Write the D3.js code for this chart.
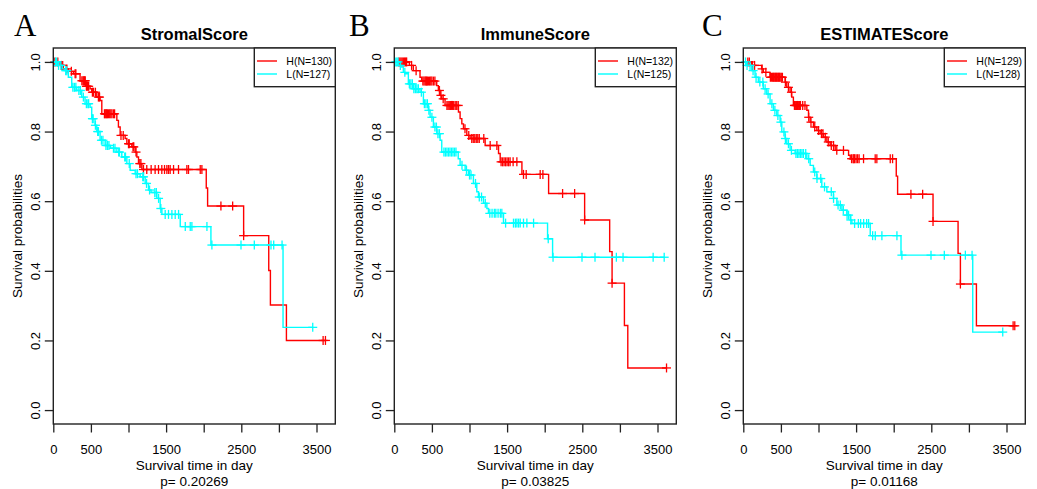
<!DOCTYPE html>
<html>
<head>
<meta charset="utf-8">
<script src="https://cdn.jsdelivr.net/npm/d3@7"></script>
<style>
  html, body { margin: 0; padding: 0; background: #fff; }
  svg { display: block; }
  text { font-family: "Liberation Sans", Arial, Helvetica, sans-serif; fill: #000; }
</style>
</head>
<body>
<svg id="chart" width="1037" height="489"></svg>
<script>
// ---------------- data ----------------
const panelLetters = ["A", "B", "C"];
const panelTitles = ["StromalScore", "ImmuneScore", "ESTIMATEScore"];
const pValues = ["0.20269", "0.03825", "0.01168"];
const highLabels = ["H(N=130)", "H(N=132)", "H(N=129)"];
const lowLabels = ["L(N=127)", "L(N=125)", "L(N=128)"];
const xTickValues = [0, 500, 1000, 1500, 2000, 2500, 3000, 3500];
const xTickShown = [0, 500, 1500, 2500, 3500];
const yTickValues = [0, 0.2, 0.4, 0.6, 0.8, 1.0];
const xMax = 3750;

// StromalScore
const stromalHighSteps = [[90,0.99],[133,0.98],[200,0.973],[267,0.966],[356,0.946],[430,0.93],[489,0.923],[511,0.913],[578,0.899],[622,0.889],[645,0.851],[845,0.832],[866,0.813],[889,0.789],[955,0.78],[978,0.765],[1044,0.756],[1089,0.741],[1111,0.727],[1133,0.708],[1178,0.691],[2034,0.638],[2052,0.586],[2531,0.501],[2865,0.401],[2887,0.302],[3100,0.2]];
const stromalHighCensor = [20,60,110,125,180,240,290,300,380,395,405,415,425,440,455,470,520,535,560,600,615,680,690,700,710,720,735,750,765,780,800,815,900,930,1000,1010,1060,1070,1100,1150,1165,1199,1243,1301,1354,1399,1443,1479,1510,1532,1554,1599,1665,1776,1798,1954,1976,2229,2385,2531,3588,3619];
const stromalLowSteps = [[60,0.99],[120,0.98],[156,0.975],[200,0.956],[245,0.927],[312,0.918],[378,0.899],[422,0.88],[489,0.87],[511,0.837],[555,0.818],[578,0.8],[622,0.775],[689,0.76],[760,0.752],[845,0.741],[911,0.727],[978,0.708],[1022,0.689],[1089,0.679],[1155,0.67],[1222,0.651],[1266,0.632],[1300,0.625],[1377,0.608],[1421,0.579],[1444,0.562],[1688,0.527],[2096,0.474],[3055,0.2376]];
const stromalLowCensor = [30,45,70,100,165,180,260,280,300,340,360,400,440,460,470,520,530,560,590,600,640,660,700,720,740,800,820,870,880,950,960,1010,1100,1120,1190,1200,1240,1280,1350,1370,1400,1430,1488,1532,1577,1621,1666,1755,1821,1843,2043,2109,2496,2673,2895,2931,3042,3450];

// ImmuneScore
const immuneHighSteps = [[200,0.99],[253,0.975],[342,0.956],[364,0.945],[564,0.932],[586,0.918],[609,0.904],[631,0.894],[675,0.875],[853,0.856],[875,0.837],[898,0.822],[920,0.808],[964,0.789],[1008,0.78],[1208,0.76],[1386,0.737],[1408,0.713],[1697,0.677],[2052,0.622],[2531,0.546],[2864,0.455],[2896,0.3646],[3060,0.243],[3105,0.121]];
const immuneHighCensor = [60,75,90,105,120,135,150,164,230,290,380,395,410,420,430,440,455,470,485,500,520,540,600,620,650,700,715,730,745,760,775,790,810,830,850,940,990,1030,1050,1070,1090,1110,1130,1190,1275,1364,1420,1440,1460,1480,1500,1520,1540,1580,1630,1718,1754,1940,1976,2238,2398,2531,2896,3620];
const immuneLowSteps = [[53,0.99],[98,0.985],[120,0.97],[142,0.966],[187,0.937],[253,0.923],[342,0.913],[387,0.88],[453,0.861],[476,0.841],[520,0.813],[565,0.794],[609,0.775],[631,0.741],[850,0.722],[875,0.703],[942,0.689],[986,0.675],[1052,0.651],[1097,0.627],[1119,0.612],[1186,0.594],[1231,0.579],[1252,0.565],[1452,0.537],[2038,0.492],[2105,0.439]];
const immuneLowCensor = [20,35,50,80,140,200,220,240,260,280,300,320,360,400,420,440,460,500,540,560,580,600,660,680,700,720,740,760,780,800,820,900,960,1000,1020,1080,1130,1160,1210,1270,1300,1330,1350,1380,1410,1430,1480,1585,1610,1630,1652,1674,1718,1763,1852,2047,2111,2496,2669,2953,3042,3442,3589];

// ESTIMATEScore
const estimateHighSteps = [[111,0.99],[244,0.98],[266,0.97],[355,0.956],[556,0.942],[578,0.927],[622,0.913],[644,0.899],[666,0.875],[845,0.861],[867,0.841],[889,0.827],[933,0.813],[978,0.803],[1022,0.794],[1066,0.784],[1111,0.77],[1155,0.76],[1222,0.746],[1400,0.732],[1422,0.722],[2034,0.672],[2052,0.62],[2523,0.542],[2856,0.45],[2887,0.362],[3100,0.242]];
const estimateHighCensor = [60,80,120,150,250,300,360,375,390,400,410,420,430,440,450,460,470,480,490,505,520,560,600,640,680,690,700,710,720,730,740,750,760,790,820,870,900,950,1000,1040,1060,1090,1130,1170,1200,1243,1332,1440,1460,1470,1480,1500,1520,1540,1599,1754,1776,1954,1985,2229,2385,2523,2887,3588,3610];
const estimateLowSteps = [[45,0.99],[112,0.975],[156,0.956],[200,0.942],[266,0.923],[312,0.908],[356,0.88],[400,0.861],[445,0.846],[489,0.827],[512,0.799],[556,0.78],[578,0.765],[622,0.746],[689,0.737],[845,0.722],[889,0.703],[933,0.684],[978,0.665],[1044,0.641],[1111,0.627],[1199,0.608],[1244,0.589],[1311,0.574],[1377,0.56],[1422,0.546],[1444,0.536],[1688,0.501],[2097,0.445],[3051,0.224]];
const estimateLowCensor = [30,50,90,130,170,220,260,290,330,380,420,460,500,540,560,600,640,700,720,740,760,780,800,830,870,950,980,1030,1080,1170,1200,1260,1290,1330,1380,1400,1430,1480,1530,1560,1600,1640,1666,1720,1755,1843,2043,2109,2496,2673,2953,3042,3450];

const highStepsList = [stromalHighSteps, immuneHighSteps, estimateHighSteps];
const highCensorList = [stromalHighCensor, immuneHighCensor, estimateHighCensor];
const lowStepsList = [stromalLowSteps, immuneLowSteps, estimateLowSteps];
const lowCensorList = [stromalLowCensor, immuneLowCensor, estimateLowCensor];

// ---------------- layout ----------------
const panelLeft = [53.3, 394.3, 743.3];
const panelWidth = 282;
const boxTop = 48, boxBottom = 424;
const letterX = [14, 349, 702];
const colHigh = "#FF0000", colLow = "#00FFFF";

const svg = d3.select("#chart");

function survAt(steps, t) {
  let s = 1.0;
  for (const [st, sv] of steps) { if (st <= t) s = sv; else break; }
  return s;
}

panelTitles.forEach((title, i) => {
  const x0 = panelLeft[i], x1 = x0 + panelWidth;
  const x = d3.scaleLinear().domain([0, xMax]).range([x0, x1]);
  const y = d3.scaleLinear().domain([-0.04, 1.04]).range([boxBottom, boxTop]);
  const g = svg.append("g");

  // curves
  const groups = [
    { steps: highStepsList[i], censor: highCensorList[i], color: colHigh },
    { steps: lowStepsList[i], censor: lowCensorList[i], color: colLow }
  ];
  groups.forEach(gr => {
    const end = d3.max(gr.censor.concat(gr.steps.map(d => d[0])));
    const pts = [[0, 1.0]];
    let cur = 1.0;
    gr.steps.forEach(([t, s]) => { pts.push([t, cur]); pts.push([t, s]); cur = s; });
    pts.push([end, cur]);
    const line = d3.line().x(d => x(d[0])).y(d => y(d[1]));
    g.append("path").attr("d", line(pts)).attr("fill", "none")
      .attr("stroke", gr.color).attr("stroke-width", 1.4);
    const marks = g.append("g").attr("stroke", gr.color).attr("stroke-width", 1.3);
    gr.censor.forEach(t => {
      const cx = x(t), cy = y(survAt(gr.steps, t));
      marks.append("line").attr("x1", cx - 4.5).attr("x2", cx + 4.5).attr("y1", cy).attr("y2", cy);
      marks.append("line").attr("x1", cx).attr("x2", cx).attr("y1", cy - 4.5).attr("y2", cy + 4.5);
    });
  });

  // box
  g.append("rect").attr("x", x0).attr("y", boxTop).attr("width", panelWidth)
    .attr("height", boxBottom - boxTop).attr("fill", "none")
    .attr("stroke", "#222").attr("stroke-width", 1.4);

  // x axis
  const xa = g.append("g").attr("transform", `translate(0,${boxBottom})`)
    .call(d3.axisBottom(x).tickValues(xTickValues).tickSize(8.5).tickPadding(0)
      .tickFormat(d => xTickShown.includes(d) ? String(d) : ""));
  xa.select(".domain").remove();
  xa.selectAll(".tick line").attr("stroke", "#222").attr("stroke-width", 1.3);
  xa.selectAll(".tick text").attr("y", 30).attr("dy", 0).attr("font-size", 13)
    .style("font-family", '"Liberation Sans", Arial, sans-serif').attr("fill", "#000");

  // y axis
  const ya = g.append("g").attr("transform", `translate(${x0},0)`)
    .call(d3.axisLeft(y).tickValues(yTickValues).tickSize(8.5).tickFormat(d3.format(".1f")));
  ya.select(".domain").remove();
  ya.selectAll(".tick line").attr("stroke", "#222").attr("stroke-width", 1.3);
  ya.selectAll(".tick text").attr("x", 0).attr("dy", 0)
    .attr("transform", "translate(-13.5,0) rotate(-90)")
    .attr("text-anchor", "middle").attr("font-size", 13)
    .style("font-family", '"Liberation Sans", Arial, sans-serif').attr("fill", "#000");

  const cx = (x0 + x1) / 2;
  // titles
  g.append("text").attr("x", cx).attr("y", 39.8).attr("text-anchor", "middle")
    .attr("font-size", 16.5).attr("font-weight", "bold").text(title);
  g.append("text").attr("x", cx).attr("y", 469.5).attr("text-anchor", "middle")
    .attr("font-size", 13.5).text("Survival time in day");
  g.append("text").attr("x", cx).attr("y", 486).attr("text-anchor", "middle")
    .attr("font-size", 13.5).text("p= " + pValues[i]);
  g.append("text").attr("transform", `translate(${x0 - 31},${(boxTop + boxBottom) / 2}) rotate(-90)`)
    .attr("text-anchor", "middle").attr("font-size", 13.5).text("Survival probabilities");

  // panel letter
  g.append("text").attr("x", letterX[i]).attr("y", 35.7)
    .style("font-family", '"Liberation Serif", "Times New Roman", serif')
    .attr("font-size", 31).text(panelLetters[i]);

  // legend
  const lw = 81, lh = 38.7;
  const lx = x1 - lw;
  const leg = g.append("g");
  leg.append("rect").attr("x", lx).attr("y", boxTop).attr("width", lw).attr("height", lh)
    .attr("fill", "#fff").attr("stroke", "#222").attr("stroke-width", 1.4);
  [[highLabels[i], colHigh, 61], [lowLabels[i], colLow, 74]].forEach(([lab, col, ly]) => {
    leg.append("line").attr("x1", lx + 2.7).attr("x2", lx + 22.7).attr("y1", ly).attr("y2", ly)
      .attr("stroke", col).attr("stroke-width", 1.4);
    leg.append("text").attr("x", lx + 32).attr("y", ly).attr("dy", "0.36em")
      .attr("font-size", 10.5).text(lab);
  });
});
</script>
</body>
</html>
